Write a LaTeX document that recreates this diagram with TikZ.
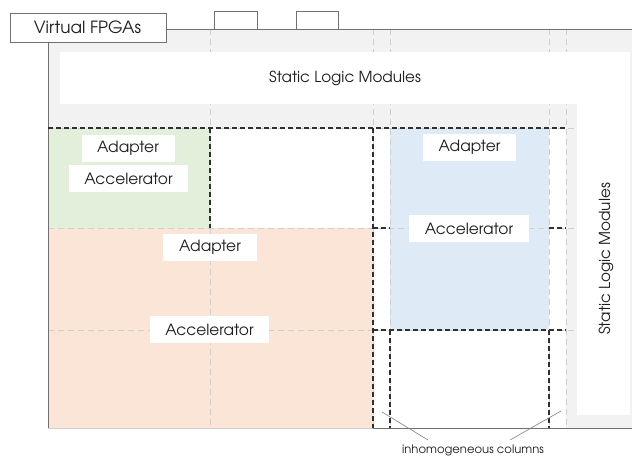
\documentclass[tikz,border=0pt]{standalone}
\usepackage{fontspec}
\setmainfont{TeX Gyre Adventor}
\definecolor{bggray}{HTML}{F2F2F2}
\definecolor{accgreen}{HTML}{E2EFDA}
\definecolor{accorange}{HTML}{FBE5D6}
\definecolor{accblue}{HTML}{DEEBF7}
\definecolor{gridgray}{HTML}{CFCFCF}
\definecolor{framegray}{HTML}{707070}
\definecolor{darkdash}{HTML}{303030}
\definecolor{textgray}{HTML}{1E1E1E}
\tikzset{
  gridline/.style={draw=gridgray, line width=0.8pt, dash pattern=on 6pt off 4pt},
  regionline/.style={draw=darkdash, line width=1.2pt, dash pattern=on 5pt off 3pt},
  frameline/.style={draw=framegray, line width=0.9pt},
  staticbox/.style={fill=white, draw=none},
  labelbox/.style={fill=white, draw=none, text=textgray, font=\fontsize{15.4}{17}\selectfont,
    minimum height=27pt, inner sep=0pt},
  tabbox/.style={fill=white, draw=framegray, line width=0.9pt},
  pointer/.style={draw=gray, line width=0.6pt},
  bigtext/.style={text=textgray, font=\fontsize{15.2}{17}\selectfont},
}
\begin{document}
\begin{tikzpicture}[x=1pt,y=-1pt]
\useasboundingbox (0,0) rectangle (632,460);

% chip background
\fill[bggray] (48,29) rectangle (632,428);

% reconfigurable regions
\fill[white] (210,128) rectangle (373,228);
\fill[accgreen] (48,128) rectangle (210,228);
\fill[accorange] (48,228) rectangle (373,428);
\fill[white] (373,128) rectangle (566,428);
\fill[accblue] (390,128) rectangle (549,330);

% column / row grid
\foreach \gx in {210,373,390,549,566}
  \draw[gridline] (\gx,29) -- (\gx,428);
\foreach \gy in {128,228,330}
  \draw[gridline] (48,\gy) -- (578,\gy);

% static logic areas
\fill[staticbox] (60,52) rectangle (630,104);
\fill[staticbox] (577,52) rectangle (630,415);
\node[bigtext] (slmtop) at (345,78.5) {Static Logic Modules};
\node[bigtext, rotate=90] (slmside) at (606,259) {Static Logic Modules};

% frame
\draw[frameline] (166,29) -- (632,29);
\draw[frameline] (48,42) -- (48,428);
\draw[frameline] (373,428) -- (632,428);
\draw[draw=gridgray, line width=0.8pt] (48,428) -- (373,428);

% region borders
\draw[regionline] (48,128) -- (566,128);
\draw[regionline] (210,128) -- (210,228);
\draw[regionline] (373,128) -- (373,428);
\draw[regionline] (373,228) -- (390,228);
\draw[regionline] (549,228) -- (566,228);
\draw[regionline] (373,330) -- (566,330);
\draw[regionline] (390,330) -- (390,428);
\draw[regionline] (549,330) -- (549,428);

% module labels
\node[labelbox, minimum width=93pt] (adGreen) at (128,148.5) {Adapter};
\node[labelbox, minimum width=119pt] (acGreen) at (128.5,178.5) {Accelerator};
\node[labelbox, minimum width=94pt] (adOrange) at (210,247) {Adapter};
\node[labelbox, minimum width=119pt] (acOrange) at (209.5,329.5) {Accelerator};
\node[labelbox, minimum width=93pt] (adBlue) at (469.5,147) {Adapter};
\node[labelbox, minimum width=120pt] (acBlue) at (469,228.5) {Accelerator};

% title tab and I/O tabs
\draw[tabbox] (10,13) rectangle (166,42);
\node[text=textgray, font=\fontsize{16.8}{19}\selectfont] (title) at (87.5,27.5) {Virtual FPGAs};
\draw[tabbox] (214,11) rectangle (257,29);
\draw[tabbox] (296,11) rectangle (338,29);

% annotation
\node[text=textgray, font=\fontsize{11.6}{13}\selectfont] (inh) at (473,450) {inhomogeneous columns};
\coordinate (inhL) at (428,440);
\coordinate (inhR) at (510,440);
\coordinate (colL) at (382,412);
\coordinate (colR) at (561,411);
\draw[pointer] (inhL) -- (colL);
\draw[pointer] (inhR) -- (colR);
\end{tikzpicture}
\end{document}
